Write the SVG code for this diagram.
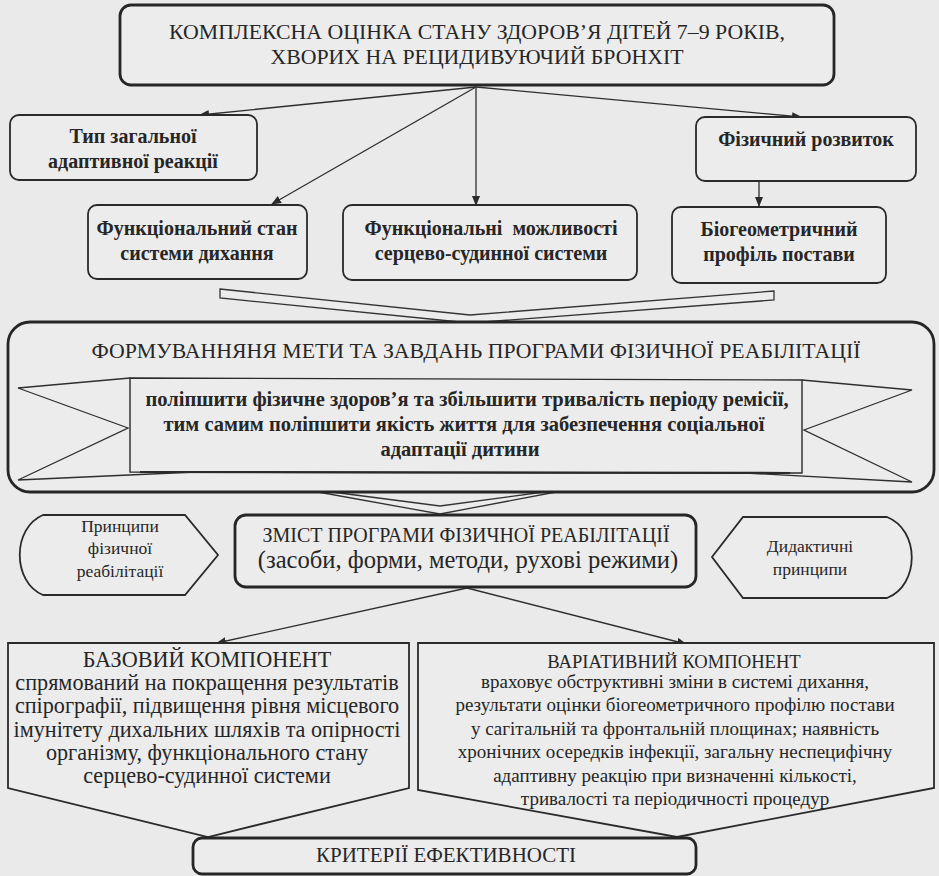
<svg xmlns="http://www.w3.org/2000/svg" width="939" height="876" viewBox="0 0 939 876" font-family="Liberation Serif, Times New Roman, serif">
<defs>
<marker id="ah" markerWidth="10" markerHeight="8" refX="9" refY="4" orient="auto" markerUnits="userSpaceOnUse">
<path d="M0,0 L10,4 L0,8 Z" fill="#2a2a2a"/>
</marker>
<style>
.bg{fill:#eaeaea}
.thick{fill:#ececec;stroke:#262626;stroke-width:2.8}
.thin{fill:#ececec;stroke:#2a2a2a;stroke-width:1.8}
.line{fill:none;stroke:#2e2e2e;stroke-width:1.3}
.band{fill:#ececec;stroke:#333;stroke-width:1.3}
text{fill:#262626;text-anchor:middle}
.cap{font-size:21.8px}
.box{font-size:20px;font-weight:bold}
.rib{font-size:20.5px;font-weight:bold}
.pr{font-size:17.5px}
.baz{font-size:22.2px}
.var{font-size:19px}
</style>
</defs>
<rect class="bg" x="0" y="0" width="939" height="876"/>

<g id="connectors">
<line class="line" x1="476" y1="87" x2="200" y2="115" marker-end="url(#ah)"/>
<line class="line" x1="476" y1="87" x2="272" y2="204" marker-end="url(#ah)"/>
<line class="line" x1="476" y1="87" x2="476" y2="205" marker-end="url(#ah)"/>
<line class="line" x1="476" y1="87" x2="801" y2="117" marker-end="url(#ah)"/>
<line class="line" x1="759" y1="181" x2="759" y2="206" marker-end="url(#ah)"/>
<line class="line" x1="467" y1="588" x2="217" y2="643" marker-end="url(#ah)"/>
<line class="line" x1="467" y1="588" x2="686" y2="644" marker-end="url(#ah)"/>
<polygon class="band" points="220,289 470,315 774,291 774,300 470,323 220,298"/>
<polygon class="band" points="318,492 440,514 556,492 544,492 440,506 332,492"/>
</g>

<g id="n-title">
<rect class="thick" x="120" y="5" width="714" height="80" rx="11"/>
<text class="cap" x="477" y="39">КОМПЛЕКСНА ОЦІНКА СТАНУ ЗДОРОВ’Я ДІТЕЙ 7–9 РОКІВ,</text>
<text class="cap" x="477" y="64">ХВОРИХ НА РЕЦИДИВУЮЧИЙ БРОНХІТ</text>
</g>

<g id="n-typ">
<rect class="thin" x="10" y="115" width="247" height="65" rx="9"/>
<text class="box" x="133" y="143">Тип загальної</text>
<text class="box" x="133" y="168">адаптивної реакції</text>
</g>

<g id="n-dyh">
<rect class="thin" x="88" y="205" width="219" height="74" rx="9"/>
<text class="box" x="197" y="235">Функціональний стан</text>
<text class="box" x="197" y="260">системи дихання</text>
</g>

<g id="n-sss">
<rect class="thin" x="343" y="205" width="294" height="75" rx="9"/>
<text class="box" x="491" y="235" xml:space="preserve">Функціональні  можливості</text>
<text class="box" x="491" y="260">серцево-судинної системи</text>
</g>

<g id="n-fiz">
<rect class="thin" x="696" y="117" width="220" height="64" rx="9"/>
<text class="box" x="806" y="146">Фізичний розвиток</text>
</g>

<g id="n-bio">
<rect class="thin" x="672" y="207" width="214" height="76" rx="9"/>
<text class="box" x="779" y="236">Біогеометричний</text>
<text class="box" x="779" y="261">профіль постави</text>
</g>

<g id="n-meta">
<rect class="thick" x="8" y="322" width="926" height="170" rx="22"/>
<text class="cap" x="476" y="358">ФОРМУВАННЯНЯ МЕТИ ТА ЗАВДАНЬ ПРОГРАМИ ФІЗИЧНОЇ РЕАБІЛІТАЦІЇ</text>
<g id="ribbon">
<polyline class="line" points="130,378 18,388 128,428 18,480 240,470"/>
<polyline class="line" points="802,380 912,390 804,430 912,482 690,470"/>
<polygon fill="#ececec" stroke="#2a2a2a" stroke-width="1.4" points="130,378 802,380 802,473 130,472"/>
<line x1="140" y1="472" x2="790" y2="473" stroke="#2a2a2a" stroke-width="2.2"/>
</g>
<text class="rib" x="467" y="406">поліпшити фізичне здоров’я та збільшити тривалість періоду ремісії,</text>
<text class="rib" x="464" y="431">тим самим поліпшити якість життя для забезпечення соціальної</text>
<text class="rib" x="460" y="456">адаптації дитини</text>
</g>

<g id="n-pryntsypy">
<path class="thin" d="M43,515 H185 L218,555 L185,595 H43 C12,582 12,528 43,515 Z"/>
<text class="pr" x="120" y="532">Принципи</text>
<text class="pr" x="120" y="554">фізичної</text>
<text class="pr" x="120" y="577">реабілітації</text>
</g>

<g id="n-zmist">
<rect class="thick" x="235" y="515" width="461" height="72" rx="11"/>
<text style="font-size:20px" x="466" y="542">ЗМІСТ ПРОГРАМИ ФІЗИЧНОЇ РЕАБІЛІТАЦІЇ</text>
<text style="font-size:24.6px" x="468" y="568">(засоби, форми, методи, рухові режими)</text>
</g>

<g id="n-dydakt">
<path class="thin" d="M743,517 H887 C920,530 920,585 887,598 H743 L712,557 Z"/>
<text class="pr" x="810" y="552">Дидактичні</text>
<text class="pr" x="810" y="575">принципи</text>
</g>

<g id="n-baz">
<path class="thin" d="M8,643 H409 V788 L208,837 L8,788 Z"/>
<text class="baz" x="207" y="667">БАЗОВИЙ КОМПОНЕНТ</text>
<text class="baz" x="207" y="690">спрямований на покращення результатів</text>
<text class="baz" x="207" y="713">спірографії, підвищення рівня місцевого</text>
<text class="baz" x="207" y="737">імунітету дихальних шляхів та опірності</text>
<text class="baz" x="207" y="760">організму, функціонального стану</text>
<text class="baz" x="207" y="783">серцево-судинної системи</text>
</g>

<g id="n-var">
<path class="thin" d="M418,643 H934 V788 L677,837 L418,790 Z"/>
<text style="font-size:18.6px" x="674" y="668">ВАРІАТИВНИЙ КОМПОНЕНТ</text>
<text class="var" x="675" y="688">враховує обструктивні зміни в системі дихання,</text>
<text class="var" x="675" y="711">результати оцінки біогеометричного профілю постави</text>
<text class="var" x="675" y="735">у сагітальній та фронтальній площинах; наявність</text>
<text class="var" x="675" y="758">хронічних осередків інфекції, загальну неспецифічну</text>
<text class="var" x="675" y="782">адаптивну реакцію при визначенні кількості,</text>
<text class="var" x="675" y="805">тривалості та періодичності процедур</text>
</g>

<g id="n-kryterii">
<rect class="thick" x="193" y="838" width="503" height="36" rx="9"/>
<text style="font-size:21px" x="446" y="862">КРИТЕРІЇ ЕФЕКТИВНОСТІ</text>
</g>
</svg>
